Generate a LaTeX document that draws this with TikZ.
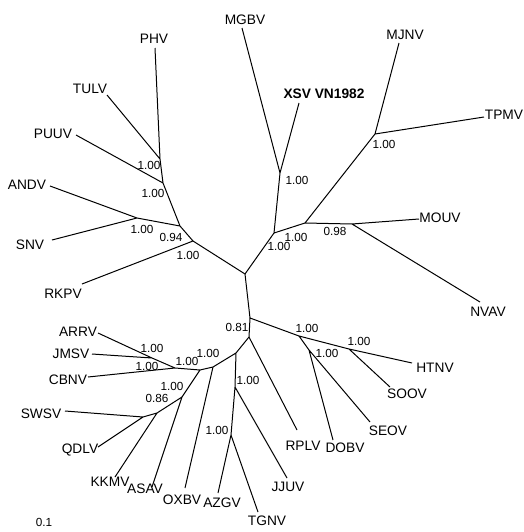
\documentclass[tikz,border=0pt]{standalone}
\usepackage{fontspec}
\setmainfont{Liberation Sans}
\begin{document}
\begin{tikzpicture}[x=0.75pt,y=-0.75pt,
  br/.style={line width=0.75pt,black},
  tip/.style={font=\fontsize{10.3}{12}\selectfont,inner sep=0pt},
  sup/.style={font=\fontsize{8.8}{10}\selectfont,inner sep=0pt}]
\useasboundingbox (0,0) rectangle (524,532);
% internal nodes
\coordinate (ctr) at (245,274);
\coordinate (p1) at (160,159);
\coordinate (p2) at (163,183);
\coordinate (p3) at (180,226);
\coordinate (p4) at (193,241);
\coordinate (as) at (137,218);
\coordinate (q1) at (280,173);
\coordinate (q2) at (274,233);
\coordinate (q3) at (305,223);
\coordinate (q4) at (375,134);
\coordinate (q5) at (352,224);
\coordinate (r0) at (250,318);
\coordinate (r1) at (299,336);
\coordinate (r2) at (349,349);
\coordinate (r3) at (309,350);
\coordinate (n0) at (249,337);
\coordinate (n1) at (236,353);
\coordinate (nj) at (235,387);
\coordinate (nk) at (231,435);
\coordinate (n2) at (213,367);
\coordinate (nc) at (200,370);
\coordinate (ne) at (182,397);
\coordinate (nf) at (157,413);
\coordinate (ng) at (143,417);
\coordinate (nb) at (175,368);
\coordinate (na) at (152,358);
% tip ends
\coordinate (ePHV) at (155,48);
\coordinate (eTULV) at (107,95);
\coordinate (ePUUV) at (76,135);
\coordinate (eANDV) at (50,186);
\coordinate (eSNV) at (52,240);
\coordinate (eRKPV) at (82,284);
\coordinate (eMGBV) at (242,28);
\coordinate (eXSV) at (299,103);
\coordinate (eMJNV) at (399,43);
\coordinate (eTPMV) at (484,117);
\coordinate (eMOUV) at (419,219);
\coordinate (eNVAV) at (480,302);
\coordinate (eHTNV) at (412,363);
\coordinate (eSOOV) at (390,387);
\coordinate (eSEOV) at (370,422);
\coordinate (eDOBV) at (333,440);
\coordinate (eRPLV) at (297,430);
\coordinate (eJJUV) at (287,478);
\coordinate (eTGNV) at (258,512);
\coordinate (eAZGV) at (218,493);
\coordinate (eOXBV) at (185,488);
\coordinate (eASAV) at (152,487);
\coordinate (eKKMV) at (115,477);
\coordinate (eQDLV) at (98,447);
\coordinate (eSWSV) at (65,411);
\coordinate (eCBNV) at (88,377);
\coordinate (eJMSV) at (92,354);
\coordinate (eARRV) at (98,333);
% branches
\draw[br] (ePHV) -- (p1) (eTULV) -- (p1) (p1) -- (p2) (ePUUV) -- (p2) -- (p3)
  (eANDV) -- (as) (eSNV) -- (as) (as) -- (p3) -- (p4) (eRKPV) -- (p4) -- (ctr);
\draw[br] (eMGBV) -- (q1) (eXSV) -- (q1) (q1) -- (q2) (ctr) -- (q2) -- (q3) -- (q4)
  (q4) -- (eMJNV) (q4) -- (eTPMV) (q3) -- (q5) -- (eMOUV) (q5) -- (eNVAV);
\draw[br] (ctr) -- (r0) -- (n0) (r0) -- (r1) -- (r2) -- (eHTNV) (r2) -- (eSOOV)
  (r1) -- (r3) -- (eDOBV) (r3) -- (eSEOV);
\draw[br] (n0) -- (eRPLV) (n0) -- (n1) -- (nj) -- (eJJUV) (nj) -- (nk) -- (eAZGV) (nk) -- (eTGNV)
  (n1) -- (n2) -- (eOXBV) (n2) -- (nc) -- (ne) -- (eASAV) (ne) -- (nf) -- (eKKMV)
  (nf) -- (ng) -- (eSWSV) (ng) -- (eQDLV)
  (nc) -- (nb) -- (eCBNV) (nb) -- (na) -- (eARRV) (na) -- (eJMSV);
% tip labels
\node[tip] (lPHV) at (154,39) {PHV};
\node[tip] (lTULV) at (90,89) {TULV};
\node[tip] (lPUUV) at (53,134) {PUUV};
\node[tip] (lANDV) at (27,185) {ANDV};
\node[tip] (lSNV) at (30,245) {SNV};
\node[tip] (lRKPV) at (63,294) {RKPV};
\node[tip] (lMGBV) at (245,20) {MGBV};
\node[tip,font=\fontsize{10.3}{12}\selectfont\bfseries] (lXSV) at (324,94) {XSV VN1982};
\node[tip] (lMJNV) at (405,35) {MJNV};
\node[tip] (lTPMV) at (504,115) {TPMV};
\node[tip] (lMOUV) at (440,218) {MOUV};
\node[tip] (lNVAV) at (488,312) {NVAV};
\node[tip] (lHTNV) at (435,368) {HTNV};
\node[tip] (lSOOV) at (407,394) {SOOV};
\node[tip] (lSEOV) at (388,431) {SEOV};
\node[tip] (lDOBV) at (345,448) {DOBV};
\node[tip] (lRPLV) at (303,446) {RPLV};
\node[tip] (lJJUV) at (288,487) {JJUV};
\node[tip] (lTGNV) at (267,521) {TGNV};
\node[tip] (lAZGV) at (222,503) {AZGV};
\node[tip] (lOXBV) at (182,500) {OXBV};
\node[tip] (lASAV) at (145,489) {ASAV};
\node[tip] (lKKMV) at (110,482) {KKMV};
\node[tip] (lQDLV) at (80,450) {QDLV};
\node[tip] (lSWSV) at (41,414) {SWSV};
\node[tip] (lCBNV) at (68,380) {CBNV};
\node[tip] (lJMSV) at (71,354) {JMSV};
\node[tip] (lARRV) at (78,332) {ARRV};
% support values
\node[sup] (s1) at (149,165) {1.00};
\node[sup] (s2) at (153,193) {1.00};
\node[sup] (s3) at (142,229) {1.00};
\node[sup] (s4) at (171,237) {0.94};
\node[sup] (s5) at (188,255) {1.00};
\node[sup] (s6) at (297,180) {1.00};
\node[sup] (s7) at (384,144) {1.00};
\node[sup] (s8) at (296,237) {1.00};
\node[sup] (s9) at (279,246) {1.00};
\node[sup] (s10) at (335,231) {0.98};
\node[sup] (s11) at (237,327) {0.81};
\node[sup] (s12) at (307,328) {1.00};
\node[sup] (s13) at (359,341) {1.00};
\node[sup] (s14) at (327,353) {1.00};
\node[sup] (s15) at (248,380) {1.00};
\node[sup] (s16) at (217,430) {1.00};
\node[sup] (s17) at (208,353) {1.00};
\node[sup] (s18) at (187,361) {1.00};
\node[sup] (s19) at (152,348) {1.00};
\node[sup] (s20) at (147,366) {1.00};
\node[sup] (s21) at (172,386) {1.00};
\node[sup] (s22) at (157,398) {0.86};
\node[sup] (scale) at (44,522) {0.1};
\end{tikzpicture}
\end{document}
